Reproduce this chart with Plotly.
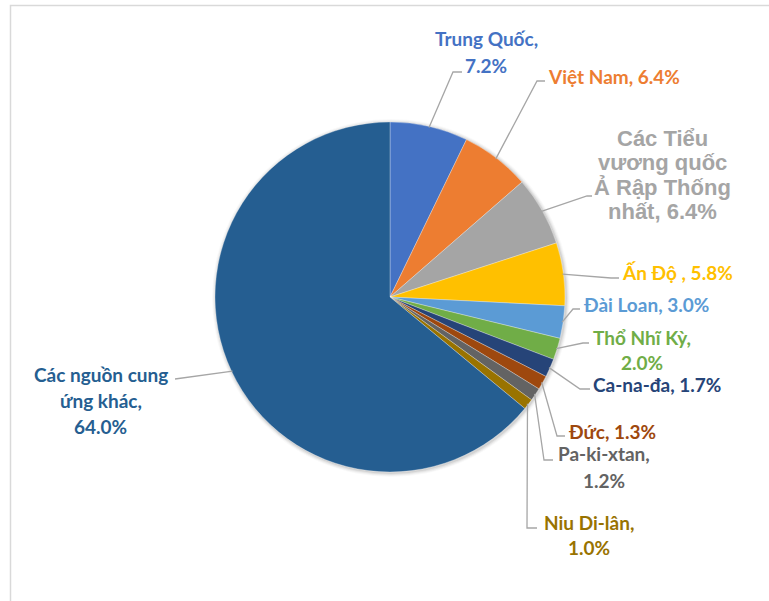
import math
import plotly.graph_objects as go

# Import sources and their shares (%)
categories = [
    "Trung Quốc", "Việt Nam", "Các Tiểu vương quốc Ả Rập Thống nhất", "Ấn Độ",
    "Đài Loan", "Thổ Nhĩ Kỳ", "Ca-na-đa", "Đức", "Pa-ki-xtan", "Niu Di-lân",
    "Các nguồn cung ứng khác",
]
shares = [7.2, 6.4, 6.4, 5.8, 3.0, 2.0, 1.7, 1.3, 1.2, 1.0, 64.0]

# Label text templates ({v} is replaced by the share)
label_templates = [
    "Trung Quốc,<br>{v}", "Việt Nam, {v}", "Các Tiểu<br>vương quốc<br>Ả Rập Thống<br>nhất, {v}",
    "Ấn Độ , {v}", "Đài Loan, {v}", "Thổ Nhĩ Kỳ,<br>{v}", "Ca-na-đa, {v}", "Đức, {v}",
    "Pa-ki-xtan,<br>{v}", "Niu Di-lân,<br>{v}", "Các nguồn cung<br>ứng khác,<br>{v}",
]

slice_colors = ["#4472C4", "#ED7D31", "#A5A5A5", "#FFC000", "#5B9BD5", "#70AD47",
                "#264478", "#9E480E", "#636363", "#997300", "#255E91"]

W, H = 769, 601
CX, CY, R = 390, 297, 175

# Label placement in pixels: (x, y of block centre, xanchor, line spacing)
label_pos = [
    (486, 52, "center", 26),
    (546, 76, "left", 26),
    (662, 175, "center", 24.5),
    (620, 272, "left", 26),
    (581, 304, "left", 26),
    (642, 350, "center", 25.5),
    (591, 384, "left", 26),
    (566, 431, "left", 26),
    (604, 467, "center", 27),
    (589, 535, "center", 25.5),
    (101, 400, "center", 26),
]
# Leader line bends in pixels: (elbow, end)
leader_pts = [
    ((453, 72), (462, 72)),
    ((537, 81), (545, 81)),
    ((587, 196), (592, 196)),
    ((611, 278), (619, 278)),
    ((573, 309), (580, 309)),
    ((583, 343), (589, 343)),
    ((580, 389), (590, 389)),
    ((557, 436), (565, 436)),
    ((544, 460), (553, 460)),
    ((527, 528), (537, 528)),
    ((175, 379), (175, 379)),
]


def px(x):
    return x / W


def py(y):
    return 1 - y / H


fig = go.Figure(go.Pie(
    labels=categories,
    values=shares,
    sort=False,
    direction="clockwise",
    rotation=0,
    textinfo="none",
    hoverinfo="label+percent",
    marker=dict(colors=slice_colors, line=dict(color="rgba(255,255,255,0.5)", width=0.6)),
    domain=dict(x=[px(CX - R), px(CX + R)], y=[py(CY + R), py(CY - R)]),
    showlegend=False,
))

shapes = []
# outer frame
shapes.append(dict(type="rect", xref="paper", yref="paper",
                   x0=px(10.5), x1=px(W + 5), y0=py(H + 5), y1=py(5.5),
                   line=dict(color="#D9D9D9", width=1.5), fillcolor="rgba(0,0,0,0)",
                   layer="below"))
# soft shadow behind the pie
for k, a in [(4, 0.025), (3, 0.035), (2, 0.05), (1, 0.07)]:
    shapes.append(dict(type="circle", xref="paper", yref="paper",
                       x0=px(CX - R - k + 1), x1=px(CX + R + k + 1),
                       y0=py(CY + R + k + 1), y1=py(CY - R - k + 1),
                       line=dict(width=0), fillcolor=f"rgba(0,0,0,{a})", layer="below"))

annotations = []
total = sum(shares)
cum = 0.0
for name, v, tmpl, col, pos, lead in zip(categories, shares, label_templates,
                                         slice_colors, label_pos, leader_pts):
    mid = (cum + v / 2) / total
    cum += v
    theta = 2 * math.pi * mid
    ex = CX + (R - 1) * math.sin(theta)
    ey = CY - (R - 1) * math.cos(theta)
    (bx, by), (tx, ty) = lead
    path = f"M {px(ex)},{py(ey)} L {px(bx)},{py(by)} L {px(tx)},{py(ty)}"
    shapes.append(dict(type="path", xref="paper", yref="paper", path=path,
                       line=dict(color="#A6A6A6", width=1.3)))

    lines = tmpl.format(v=f"{v:.1f}%").split("<br>")
    is_uae = name.startswith("Các Tiểu")
    font = dict(family="Liberation Sans, Arial, sans-serif" if is_uae else "Lato, Calibri, sans-serif",
                size=22 if is_uae else 19, color=col, weight="bold")
    x, yc, xa, step = pos
    n = len(lines)
    for i, line in enumerate(lines):
        y = yc + (i - (n - 1) / 2) * step
        annotations.append(dict(x=px(x), y=py(y), xref="paper", yref="paper",
                                text=line, showarrow=False, xanchor=xa, yanchor="middle",
                                align=xa if xa != "center" else "center", font=font))

fig.update_layout(
    width=W, height=H,
    margin=dict(l=0, r=0, t=0, b=0),
    paper_bgcolor="white",
    plot_bgcolor="white",
    shapes=shapes,
    annotations=annotations,
)

fig.write_html("out.html")
